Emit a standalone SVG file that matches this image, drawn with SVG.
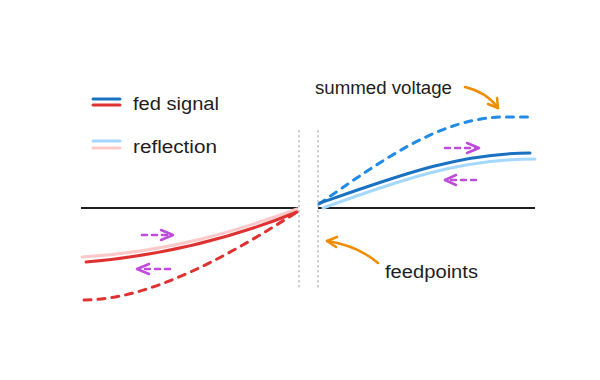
<svg xmlns="http://www.w3.org/2000/svg" width="600" height="380" viewBox="0 0 600 380">
<style>
.t{font-family:"Liberation Sans",Arial,sans-serif;font-size:18px;fill:#1e1e1e}
.ax{stroke:#1e1e1e;stroke-width:2;fill:none}
.dot{stroke:#c3c8cd;stroke-width:2;stroke-dasharray:0.5 4.5;stroke-linecap:round;fill:none}
.c{fill:none;stroke-width:3;stroke-linecap:round}
.dash{stroke-dasharray:7 7}
.mg{fill:none;stroke:#be4bdb;stroke-width:2.5;stroke-linecap:round;stroke-linejoin:round}
.mgd{stroke-dasharray:5 5}
.or{fill:none;stroke:#f08c00;stroke-width:2.5;stroke-linecap:round;stroke-linejoin:round}
</style>
<rect width="600" height="380" fill="#ffffff"/>
<g id="legend">
<line x1="93" y1="99" x2="120" y2="99" class="c" stroke="#1971c2"/>
<line x1="93" y1="105" x2="120" y2="105" class="c" stroke="#e03131"/>
<line x1="93" y1="141" x2="120" y2="141" class="c" stroke="#a5d8ff"/>
<line x1="93" y1="148" x2="120" y2="148" class="c" stroke="#ffc9c9"/>
<text class="t" x="133" y="110" textLength="86" lengthAdjust="spacingAndGlyphs">fed signal</text>
<text class="t" x="133" y="153" textLength="84" lengthAdjust="spacingAndGlyphs">reflection</text>
</g>
<g id="axes">
<line x1="81" y1="208" x2="298" y2="208" class="ax"/>
<line x1="318" y1="208" x2="535" y2="208" class="ax"/>
<line x1="299" y1="131" x2="299" y2="290" class="dot"/>
<line x1="318" y1="131" x2="318" y2="290" class="dot"/>
</g>
<g id="right-curves">
<path d="M319,204 C380,162 440,117 505,117 L532,117" class="c dash" stroke="#228be6"/>
<path d="M323,208 C400,180 460,159 535,159" class="c" stroke="#a5d8ff"/>
<path d="M320,203 C400,175 460,153 530,153" class="c" stroke="#1971c2"/>
</g>
<g id="left-curves">
<path d="M82,257 C170,252 240,230 297,209" class="c" stroke="#ffc9c9"/>
<path d="M86,262 C170,255 240,235 297,212" class="c" stroke="#e03131"/>
<path d="M84,300 C150,300 230,255 297,212" class="c dash" stroke="#e03131"/>
</g>
<g id="connectors">
<path d="M445,148 L478,148" class="mg mgd"/>
<path d="M467,143 L479,148 L467,153" class="mg"/>
<path d="M476,180 L445,180" class="mg mgd"/>
<path d="M456,175 L445,180 L456,185" class="mg"/>
<path d="M142,235 L172,235" class="mg mgd"/>
<path d="M161,230 L173,235 L161,240" class="mg"/>
<path d="M170,269 L138,269" class="mg mgd"/>
<path d="M149,264 L137,269 L149,274" class="mg"/>
<path d="M465,87 C478,90 490,97 498,108" class="or"/>
<path d="M488,104 L498,108 L497,98" class="or"/>
<path d="M378,263 C365,252 348,244 327,241" class="or"/>
<path d="M336,247 L327,241 L337,237" class="or"/>
</g>
<g id="labels">
<text class="t" x="315" y="94" textLength="137" lengthAdjust="spacingAndGlyphs">summed voltage</text>
<text class="t" x="385" y="278" textLength="93" lengthAdjust="spacingAndGlyphs">feedpoints</text>
</g>
</svg>
